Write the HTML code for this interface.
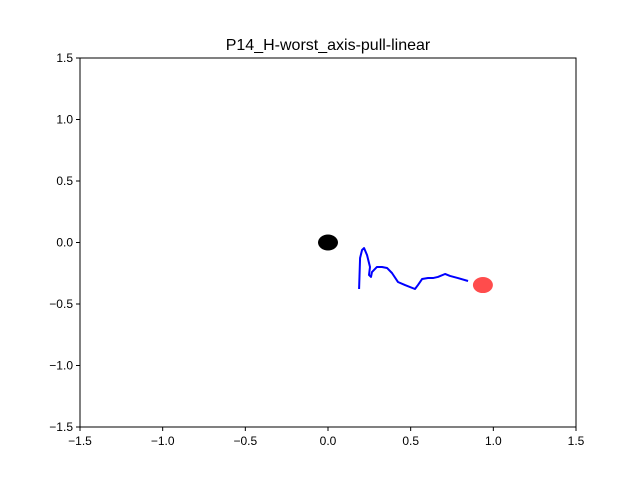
<!DOCTYPE html>
<html><head><meta charset="utf-8"><style>body{margin:0;background:#fff}svg{display:block;font-family:"Liberation Sans","DejaVu Sans",sans-serif}</style></head>
<body>
<svg id="c" width="640" height="480"></svg>
<script>
const xs=[0.188,0.194,0.206,0.218,0.236,0.254,0.248,0.260,0.266,0.296,0.327,0.357,0.387,0.423,0.466,0.526,0.544,0.569,0.605,0.635,0.665,0.708,0.738,0.786,0.847];
const ys=[-0.378,-0.126,-0.061,-0.045,-0.102,-0.199,-0.264,-0.280,-0.240,-0.199,-0.199,-0.207,-0.248,-0.321,-0.346,-0.378,-0.346,-0.297,-0.289,-0.289,-0.280,-0.256,-0.272,-0.289,-0.313];
const startPt=[0,0];
const goalPt=[0.937,-0.346];
const xTicks=[-1.5,-1.0,-0.5,0.0,0.5,1.0,1.5];
const yTicks=[-1.5,-1.0,-0.5,0.0,0.5,1.0,1.5];
const L=80,R=576,T=58,B=427;
const sx=v=>L+(v+1.5)/3*(R-L), sy=v=>B-(v+1.5)/3*(B-T);
const svg=document.getElementById('c');const NS='http://www.w3.org/2000/svg';
function mk(t,a,p){const e=document.createElementNS(NS,t);for(const k in a)e.setAttribute(k,a[k]);(p||svg).appendChild(e);return e;}
const fmt=v=>(v<0?'\u2212':'')+Math.abs(v).toFixed(1);
let e=mk('text',{x:328,y:50,'text-anchor':'middle','font-size':16});e.textContent='P14_H-worst_axis-pull-linear';


xTicks.forEach(v=>{const x=sx(v);mk('line',{x1:x,x2:x,y1:B,y2:B+4,stroke:'#000'});
const t=mk('text',{x:x,y:B+18,'text-anchor':'middle','font-size':12});t.textContent=fmt(v);

});
yTicks.forEach(v=>{const y=sy(v);mk('line',{x1:L-4,x2:L,y1:y,y2:y,stroke:'#000'});
const t=mk('text',{x:L-7,y:y+4,'text-anchor':'end','font-size':12});t.textContent=fmt(v);

});
const s=mk('ellipse',{cx:sx(startPt[0]),cy:sy(startPt[1]),rx:10,ry:8,fill:'#000'});


const p=mk('polyline',{points:xs.map((x,i)=>sx(x)+','+sy(ys[i])).join(' '),fill:'none',stroke:'#00f','stroke-width':2,'stroke-linejoin':'round'});


const g=mk('ellipse',{cx:sx(goalPt[0]),cy:sy(goalPt[1]),rx:10,ry:8,fill:'#f00','fill-opacity':0.7});


const f=mk('rect',{x:L,y:T,width:R-L,height:B-T,fill:'none',stroke:'#000','stroke-width':1});


</script>
</body></html>
